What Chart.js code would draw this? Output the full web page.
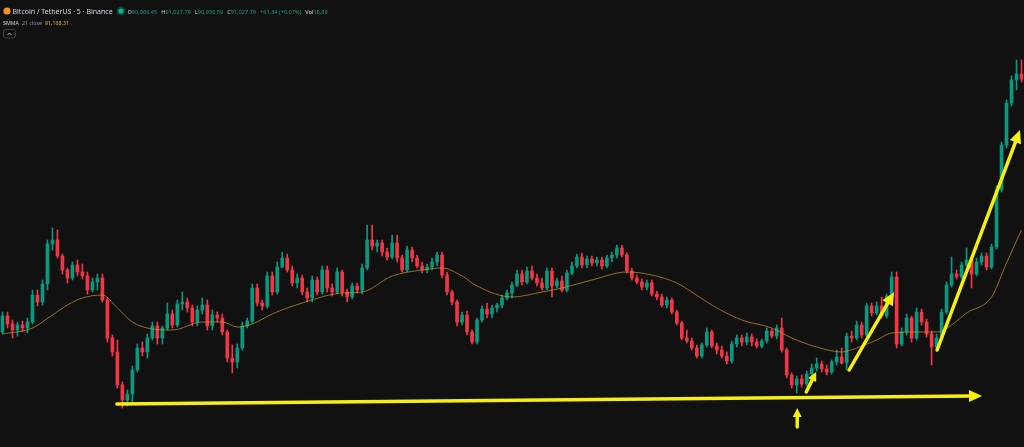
<!DOCTYPE html>
<html>
<head>
<meta charset="utf-8">
<title>BTCUSDT 5m</title>
<script src="https://cdn.jsdelivr.net/npm/chart.js@4.4.1/dist/chart.umd.min.js"></script>
<style>
    html, body { margin: 0; padding: 0; background: #111111; }
    #wrap { position: relative; width: 1024px; height: 447px; }
</style>
</head>
<body>
<div id="wrap"><canvas id="chart"></canvas></div>
<script>
// 5-minute candles (USDT)
const opens = [
    90772, 90836, 90804, 90780, 90800, 90788, 90812, 90920, 90892, 90964,
    91124, 91140, 91076, 91020, 90988, 91040, 91012, 90996, 90940, 90972,
    90988, 90900, 90748, 90692, 90560, 90500, 90524, 90620, 90708, 90692,
    90748, 90796, 90748, 90788, 90844, 90800, 90884, 90892, 90868, 90812,
    90860, 90880, 90796, 90840, 90828, 90772, 90668, 90652, 90708, 90796,
    90816, 90948, 90888, 90876, 90996, 90932, 91032, 91068, 91020, 90968,
    90988, 90932, 90908, 90980, 90932, 91020, 90948, 90932, 91012, 90932,
    90912, 90956, 90940, 91028, 91140, 91116, 91128, 91092, 91072, 91128,
    91068, 91020, 91100, 91068, 91036, 91020, 91032, 91052, 91080, 91000,
    90932, 90892, 90812, 90840, 90772, 90732, 90820, 90864, 90844, 90868,
    90880, 90908, 90928, 90960, 91004, 90972, 91016, 90988, 90968, 90948,
    91016, 90956, 90976, 90940, 91008, 91036, 91072, 91040, 91064, 91048,
    91060, 91036, 91068, 91080, 91108, 91080, 91016, 90988, 90972, 90952,
    90968, 90924, 90912, 90880, 90900, 90852, 90808, 90748, 90736, 90708,
    90676, 90720, 90772, 90716, 90700, 90676, 90656, 90724, 90748, 90732,
    90752, 90732, 90716, 90736, 90776, 90756, 90788, 90700, 90600, 90560,
    90584, 90564, 90604, 90628, 90644, 90624, 90612, 90652, 90672, 90648,
    90756, 90748, 90800, 90760, 90876, 90848, 90876, 90836, 90916, 90992,
    90724, 90772, 90828, 90748, 90852, 90812, 90764, 90712, 90748, 90852,
    90960, 91004, 90992, 91040, 91060, 91004, 91052, 91076, 91032, 91112,
    91340, 91520, 91688, 91780, 91804
];
const highs = [
    90852, 90852, 90820, 90812, 90816, 90828, 90940, 90940, 90980, 91140,
    91188, 91180, 91084, 91028, 91052, 91060, 91044, 91012, 90988, 91004,
    91004, 90908, 90760, 90740, 90572, 90540, 90636, 90724, 90732, 90764,
    90812, 90812, 90796, 90888, 90860, 90900, 90932, 90908, 90880, 90876,
    90908, 90900, 90860, 90852, 90844, 90780, 90720, 90724, 90812, 90828,
    90964, 90964, 90900, 91012, 91012, 91052, 91092, 91084, 91036, 91004,
    91000, 90948, 90996, 90992, 91036, 91036, 90964, 91028, 91020, 90944,
    90968, 90968, 91044, 91200, 91200, 91140, 91140, 91108, 91160, 91160,
    91080, 91116, 91112, 91080, 91052, 91044, 91068, 91092, 91092, 91012,
    90940, 90900, 90852, 90856, 90780, 90828, 90876, 90888, 90880, 90888,
    90920, 90940, 90972, 91020, 91020, 91032, 91036, 91004, 90988, 91028,
    91028, 90988, 90996, 91020, 91052, 91084, 91088, 91076, 91076, 91072,
    91072, 91080, 91092, 91120, 91120, 91088, 91028, 91000, 90984, 90980,
    90980, 90936, 90924, 90912, 90908, 90860, 90816, 90780, 90748, 90720,
    90728, 90788, 90780, 90728, 90716, 90692, 90736, 90760, 90760, 90768,
    90764, 90744, 90744, 90788, 90784, 90800, 90828, 90708, 90608, 90596,
    90600, 90616, 90644, 90668, 90656, 90640, 90660, 90700, 90708, 90768,
    90776, 90816, 90812, 90888, 90888, 90892, 90912, 90924, 91012, 91012,
    90788, 90844, 90836, 90868, 90864, 90824, 90776, 90764, 90864, 90972,
    91072, 91020, 91052, 91108, 91072, 91068, 91088, 91088, 91124, 91356,
    91532, 91700, 91796, 91860, 91860
];
const lows = [
    90764, 90788, 90748, 90756, 90772, 90768, 90804, 90876, 90880, 90940,
    91100, 91068, 91004, 90968, 90980, 90996, 90984, 90924, 90932, 90940,
    90892, 90732, 90676, 90548, 90468, 90476, 90492, 90612, 90676, 90668,
    90740, 90724, 90724, 90780, 90788, 90792, 90860, 90852, 90796, 90796,
    90844, 90780, 90780, 90812, 90760, 90652, 90608, 90628, 90700, 90788,
    90808, 90876, 90860, 90868, 90920, 90924, 91028, 91012, 90956, 90948,
    90920, 90892, 90892, 90920, 90924, 90932, 90916, 90924, 90916, 90892,
    90904, 90928, 90924, 91020, 91100, 91092, 91076, 91060, 91064, 91052,
    91012, 91012, 91052, 91028, 91008, 91008, 91020, 91036, 90988, 90920,
    90880, 90796, 90800, 90760, 90724, 90724, 90812, 90828, 90828, 90852,
    90868, 90900, 90908, 90952, 90960, 90964, 90980, 90956, 90940, 90940,
    90912, 90948, 90932, 90932, 91000, 91028, 91028, 91028, 91036, 91036,
    91024, 91028, 91052, 91068, 91072, 91008, 90980, 90964, 90940, 90940,
    90916, 90900, 90872, 90868, 90844, 90800, 90740, 90728, 90700, 90668,
    90668, 90712, 90708, 90684, 90668, 90644, 90648, 90712, 90716, 90720,
    90716, 90708, 90708, 90728, 90748, 90744, 90692, 90588, 90548, 90528,
    90552, 90556, 90580, 90616, 90612, 90600, 90604, 90640, 90644, 90620,
    90732, 90740, 90748, 90752, 90836, 90840, 90828, 90828, 90908, 90708,
    90716, 90760, 90732, 90740, 90800, 90752, 90640, 90700, 90740, 90844,
    90952, 90984, 90984, 91032, 90948, 90996, 91040, 91020, 91024, 91104,
    91332, 91508, 91676, 91740, 91772
];
const closes = [
    90836, 90804, 90780, 90800, 90788, 90812, 90920, 90892, 90964, 91124,
    91140, 91076, 91020, 90988, 91040, 91012, 90996, 90940, 90972, 90988,
    90900, 90748, 90692, 90560, 90500, 90524, 90620, 90708, 90692, 90748,
    90796, 90748, 90788, 90844, 90800, 90884, 90892, 90868, 90812, 90860,
    90880, 90796, 90840, 90828, 90772, 90668, 90652, 90708, 90796, 90816,
    90948, 90888, 90876, 90996, 90932, 91032, 91068, 91020, 90968, 90988,
    90932, 90908, 90980, 90932, 91020, 90948, 90932, 91012, 90932, 90912,
    90956, 90940, 91028, 91140, 91116, 91128, 91092, 91072, 91128, 91068,
    91020, 91100, 91068, 91036, 91020, 91032, 91052, 91080, 91000, 90932,
    90892, 90812, 90840, 90772, 90732, 90820, 90864, 90844, 90868, 90880,
    90908, 90928, 90960, 91004, 90972, 91016, 90988, 90968, 90948, 91016,
    90956, 90976, 90940, 91008, 91036, 91072, 91040, 91064, 91048, 91060,
    91036, 91068, 91080, 91108, 91080, 91016, 90988, 90972, 90952, 90968,
    90924, 90912, 90880, 90900, 90852, 90808, 90748, 90736, 90708, 90676,
    90720, 90772, 90716, 90700, 90676, 90656, 90724, 90748, 90732, 90752,
    90732, 90716, 90736, 90776, 90756, 90788, 90700, 90600, 90560, 90584,
    90564, 90604, 90628, 90644, 90624, 90612, 90652, 90672, 90648, 90756,
    90748, 90800, 90760, 90876, 90848, 90876, 90836, 90916, 90992, 90724,
    90772, 90828, 90748, 90852, 90812, 90764, 90712, 90748, 90852, 90960,
    91004, 90992, 91040, 91060, 91004, 91052, 91076, 91032, 91112, 91340,
    91520, 91688, 91780, 91804, 91784
];

// SMMA 21 (close), read at some candles
const smmaIdx = [0, 6, 10, 13, 16, 20, 23, 26, 29, 34, 40, 44, 47, 50, 54, 60, 68, 72, 78, 84,
    88, 92, 95, 102, 108, 112, 118, 125, 130, 135, 138, 142, 148, 154, 158, 163, 168, 171, 175, 178,
    183, 187, 190, 193, 198, 201, 204];
const smmaVals = [90764, 90788, 90840, 90880, 90908, 90920, 90868, 90812, 90788, 90780,
    90812, 90812, 90792, 90804, 90844, 90888, 90928, 90932, 90996, 91020,
    91028, 90996, 90956, 90912, 90932, 90948, 90980, 91012, 91000, 90968,
    90932, 90880, 90820, 90788, 90748, 90712, 90692, 90708, 90740, 90768,
    90772, 90772, 90800, 90848, 90912, 91048, 91180];

// hand-drawn arrows: [candle index, price]
const arrowStarts = [[22.9, 90484], [159.1, 90392], [160.9, 90532], [169.5, 90620], [187.1, 90700]];
const arrowEnds = [[196.1, 90516], [159.1, 90468], [162.9, 90612], [178.5, 90932], [203.7, 91580]];

const priceMin = 90312;
const priceMax = 92100;

const UP = '#089981';
const DOWN = '#f23645';
const candleColors = opens.map((o, i) => closes[i] >= o ? UP : DOWN);

// 화살표 그리기
const arrowPlugin = {
    id: 'arrows',
    afterDatasetsDraw(chart) {
        const ctx = chart.ctx;
        const xs = chart.scales.x;
        const ys = chart.scales.y;
        ctx.save();
        ctx.strokeStyle = '#f7ef0f';
        ctx.fillStyle = '#f7ef0f';
        ctx.lineWidth = 3.5;
        ctx.lineCap = 'round';
        arrowStarts.forEach((s, k) => {
            const e = arrowEnds[k];
            const x1 = xs.getPixelForValue(s[0]);
            const y1 = ys.getPixelForValue(s[1]);
            const x2 = xs.getPixelForValue(e[0]);
            const y2 = ys.getPixelForValue(e[1]);
            const len = Math.hypot(x2 - x1, y2 - y1);
            const ux = (x2 - x1) / len;
            const uy = (y2 - y1) / len;
            const head = len < 40 ? 9 : 13;
            const half = len < 40 ? 4.5 : 6;
            const bx = x2 - ux * head;
            const by = y2 - uy * head;
            ctx.beginPath();
            ctx.moveTo(x1, y1);
            ctx.lineTo(bx + ux * 2, by + uy * 2);
            ctx.stroke();
            ctx.beginPath();
            ctx.moveTo(x2, y2);
            ctx.lineTo(bx - uy * half, by + ux * half);
            ctx.lineTo(bx + uy * half, by - ux * half);
            ctx.closePath();
            ctx.fill();
        });
        ctx.restore();
    }
};

// 상단 심볼/지표 정보
const headerPlugin = {
    id: 'header',
    afterDraw(chart) {
        const ctx = chart.ctx;
        ctx.save();
        ctx.textBaseline = 'alphabetic';

        ctx.fillStyle = '#f7931a';
        ctx.beginPath();
        ctx.arc(7, 11, 3.6, 0, Math.PI * 2);
        ctx.fill();

        ctx.font = '7px "Noto Sans"';
        ctx.fillStyle = '#d1d4dc';
        ctx.fillText('Bitcoin / TetherUS · 5 · Binance', 12.5, 13.5);

        ctx.fillStyle = 'rgba(8, 153, 129, 0.35)';
        ctx.beginPath();
        ctx.arc(121, 11, 4.5, 0, Math.PI * 2);
        ctx.fill();
        ctx.fillStyle = '#13b08f';
        ctx.beginPath();
        ctx.arc(121, 11, 2.6, 0, Math.PI * 2);
        ctx.fill();

        const fields = [['O', '90,966.45'], ['H', '91,027.79'], ['L', '90,938.59'], ['C', '91,027.79'],
            ['', '+61.34 (+0.07%)'], ['Vol', '18.89']];
        ctx.font = '5.6px "Noto Sans"';
        let x = 127.5;
        fields.forEach(f => {
            ctx.fillStyle = '#d1d4dc';
            ctx.fillText(f[0], x, 13.5);
            x += ctx.measureText(f[0]).width;
            ctx.fillStyle = '#1e9e84';
            ctx.fillText(f[1], x, 13.5);
            x += ctx.measureText(f[1]).width + 4;
        });

        // SMMA 21 close 값
        const smmaParts = [['SMMA', '#d1d4dc'], ['21 close', '#8c8f99'], ['91,168.31', '#e6b331']];
        ctx.font = '5.3px "Noto Sans"';
        x = 3;
        smmaParts.forEach(p => {
            ctx.fillStyle = p[1];
            ctx.fillText(p[0], x, 25);
            x += ctx.measureText(p[0]).width + 3;
        });

        ctx.strokeStyle = '#3a3d45';
        ctx.lineWidth = 1;
        ctx.beginPath();
        ctx.roundRect(3.5, 29.5, 12, 8.5, 2);
        ctx.stroke();
        ctx.strokeStyle = '#b2b5be';
        ctx.beginPath();
        ctx.moveTo(7.5, 35);
        ctx.lineTo(9.5, 33);
        ctx.lineTo(11.5, 35);
        ctx.stroke();
        ctx.restore();
    }
};

new Chart(document.getElementById('chart'), {
    type: 'bar',
    data: {
        datasets: [
            {
                label: 'SMMA 21',
                type: 'line',
                data: smmaIdx.map((x, k) => ({ x: x, y: smmaVals[k] })),
                borderColor: 'rgba(205, 150, 45, 0.7)',
                borderWidth: 1,
                pointRadius: 0,
                cubicInterpolationMode: 'monotone',
                order: 0
            },
            {
                label: 'wick',
                data: highs.map((h, i) => ({ x: i, y: [lows[i], h] })),
                backgroundColor: candleColors,
                barThickness: 1,
                grouped: false,
                order: 2
            },
            {
                label: 'body',
                data: opens.map((o, i) => ({ x: i, y: [o, closes[i]] })),
                backgroundColor: candleColors,
                barThickness: 3,
                grouped: false,
                order: 1
            }
        ]
    },
    options: {
        responsive: true,
        maintainAspectRatio: false,
        animation: false,
        events: [],
        layout: { padding: 0 },
        plugins: {
            legend: { display: false },
            tooltip: { enabled: false }
        },
        scales: {
            x: { type: 'linear', min: -0.5, max: opens.length - 0.5, offset: false, display: false },
            y: { min: priceMin, max: priceMax, display: false }
        }
    },
    plugins: [arrowPlugin, headerPlugin]
});
</script>
</body>
</html>
